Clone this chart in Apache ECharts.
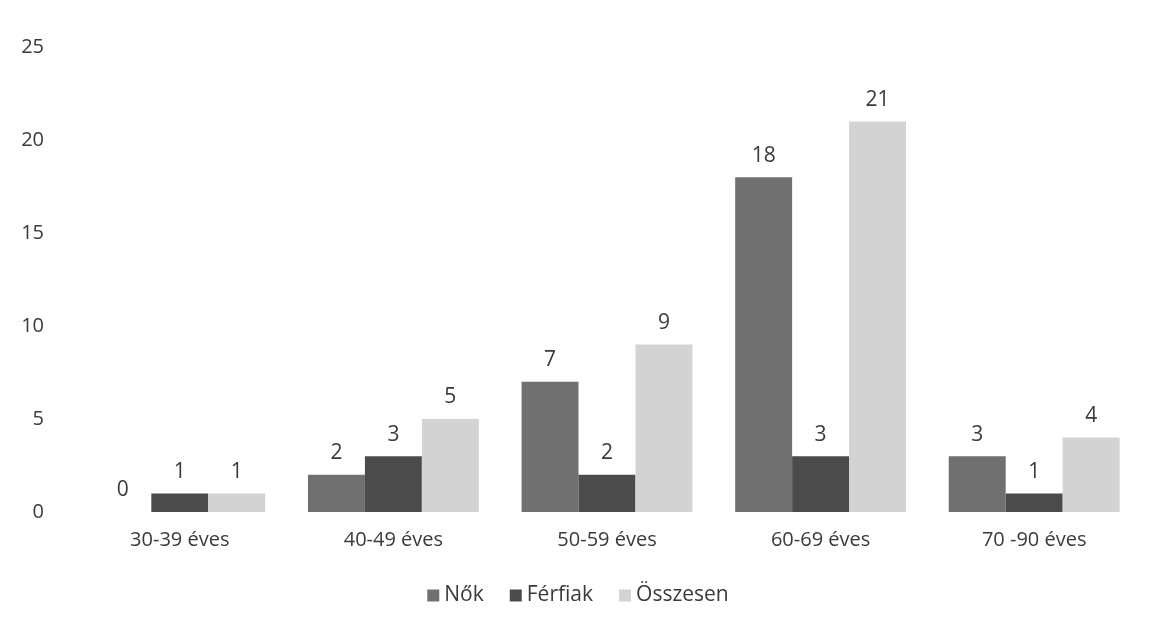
<!DOCTYPE html>
<html>
<head>
<meta charset="utf-8">
<script src="https://cdn.jsdelivr.net/npm/echarts@6/dist/echarts.min.js"></script>
<style>
html,body{margin:0;padding:0;background:#fff;}
#c{width:1156px;height:627px;}
</style>
</head>
<body>
<div id="c"></div>
<script>
const categories = ["30-39 éves", "40-49 éves", "50-59 éves", "60-69 éves", "70 -90 éves"];
const seriesNames = ["Nők", "Férfiak", "Összesen"];
const nok = [0, 2, 7, 18, 3];
const ferfiak = [1, 3, 2, 3, 1];
const osszesen = [1, 5, 9, 21, 4];
const colors = ["#707070", "#4b4b4b", "#d3d3d3"];
const font = "'Open Sans', Lato, sans-serif";
const txt = "#3a3a3a";

const chart = echarts.init(document.getElementById('c'));
const mk = (name, data, color) => ({
  name: name, type: 'bar', data: data, barGap: '0%', barCategoryGap: '20%',
  itemStyle: { color: color },
  label: { show: true, position: 'top', distance: 11, color: txt, fontSize: 21, fontFamily: font },
  emphasis: { disabled: true }
});
chart.setOption({
  animation: false,
  color: colors,
  grid: { left: 73, right: 15, top: 47, bottom: 115, containLabel: false },
  legend: {
    data: seriesNames, bottom: 16, left: 'center', itemWidth: 12, itemHeight: 12, itemGap: 26,
    icon: 'rect',
    textStyle: { color: txt, fontSize: 21, fontFamily: font }
  },
  xAxis: {
    type: 'category', data: categories,
    axisLine: { show: false }, axisTick: { show: false },
    axisLabel: { color: txt, fontSize: 20, fontFamily: font, margin: 18 }
  },
  yAxis: {
    type: 'value', min: 0, max: 25, interval: 5,
    splitLine: { show: false }, axisLine: { show: false }, axisTick: { show: false },
    axisLabel: { color: txt, fontSize: 20, fontFamily: font, margin: 29 }
  },
  series: [mk(seriesNames[0], nok, colors[0]), mk(seriesNames[1], ferfiak, colors[1]), mk(seriesNames[2], osszesen, colors[2])]
});
</script>
</body>
</html>
